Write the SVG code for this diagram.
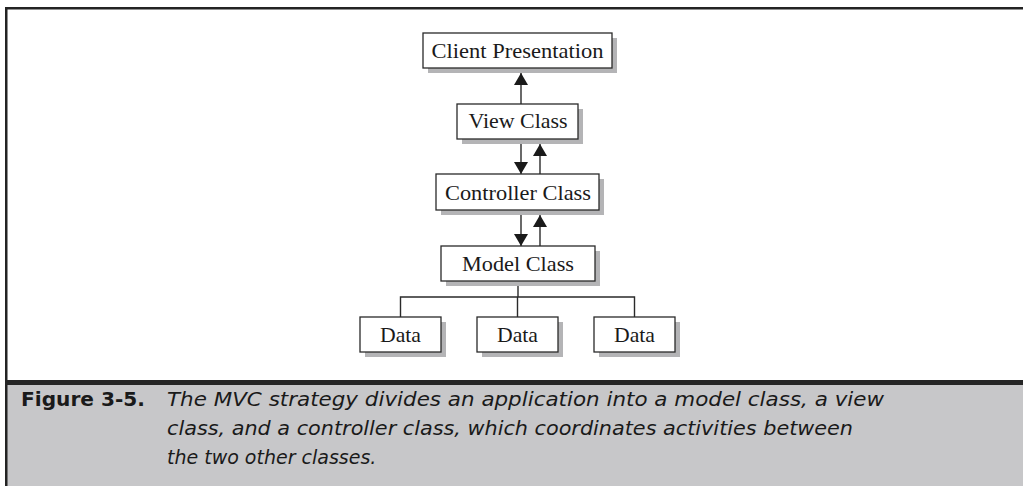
<svg xmlns="http://www.w3.org/2000/svg" width="1023" height="486" viewBox="0 0 1023 486">
  <style>
    .shadow { fill: #b4b4b6; }
    .box { fill: #ffffff; stroke: #2a2a2a; stroke-width: 1.3; }
    .label { font-family: "Liberation Serif", "DejaVu Serif", serif; font-size: 22px; fill: #1a1a1a; text-anchor: middle; }
    .wire { fill: none; stroke: #2a2a2a; stroke-width: 1.4; }
    .fig { font-family: "DejaVu Sans", "Liberation Sans", sans-serif; font-weight: bold; font-size: 20px; fill: #1a1a1a; }
    .cap { font-family: "DejaVu Sans", "Liberation Sans", sans-serif; font-style: italic; font-size: 19px; fill: #1a1a1a; }
  </style>
  <defs>
    <marker id="arrow" viewBox="0 0 12 14" refX="12" refY="7" markerWidth="12" markerHeight="14" markerUnits="userSpaceOnUse" orient="auto">
      <path d="M0,0 L12,7 L0,14 z" fill="#1a1a1a"/>
    </marker>
  </defs>

  <!-- page frame -->
  <rect x="0" y="0" width="1023" height="486" fill="#ffffff"/>
  <rect x="6" y="383" width="1017" height="103" fill="#c7c7c9"/>
  <rect x="5" y="7" width="1018" height="2.5" fill="#232323"/>
  <rect x="5" y="7" width="2.5" height="479" fill="#232323"/>
  <rect x="5" y="380" width="1018" height="5" fill="#262626"/>

  <!-- connectors -->
  <g id="connectors">
    <line class="wire" x1="521" y1="104" x2="521" y2="73" marker-end="url(#arrow)"/>
    <line class="wire" x1="521" y1="139" x2="521" y2="174" marker-end="url(#arrow)"/>
    <line class="wire" x1="540" y1="174" x2="540" y2="144" marker-end="url(#arrow)"/>
    <line class="wire" x1="521" y1="210" x2="521" y2="246" marker-end="url(#arrow)"/>
    <line class="wire" x1="540" y1="246" x2="540" y2="215" marker-end="url(#arrow)"/>
    <path class="wire" d="M518,281 V297 M400.5,317 V297 H634.5 V317 M517.5,297 V317"/>
  </g>

  <g id="client">
    <rect class="shadow" x="428" y="38" width="189" height="35"/>
    <rect class="box" x="423" y="33" width="189" height="35"/>
    <text class="label" x="517.5" y="58" textLength="172" lengthAdjust="spacingAndGlyphs">Client Presentation</text>
  </g>

  <g id="view">
    <rect class="shadow" x="462" y="109" width="121" height="35"/>
    <rect class="box" x="457" y="104" width="121" height="35"/>
    <text class="label" x="518" y="127.5" textLength="99" lengthAdjust="spacingAndGlyphs">View Class</text>
  </g>

  <g id="controller">
    <rect class="shadow" x="441" y="179" width="163" height="36"/>
    <rect class="box" x="436" y="174" width="163" height="36"/>
    <text class="label" x="518" y="200" textLength="146" lengthAdjust="spacingAndGlyphs">Controller Class</text>
  </g>

  <g id="model">
    <rect class="shadow" x="446" y="251" width="154" height="35"/>
    <rect class="box" x="441" y="246" width="154" height="35"/>
    <text class="label" x="518" y="271" textLength="112" lengthAdjust="spacingAndGlyphs">Model Class</text>
  </g>

  <g id="data1">
    <rect class="shadow" x="365" y="322" width="81" height="35"/>
    <rect class="box" x="360" y="317" width="81" height="35"/>
    <text class="label" x="400.5" y="341.5" textLength="41" lengthAdjust="spacingAndGlyphs">Data</text>
  </g>

  <g id="data2">
    <rect class="shadow" x="482" y="322" width="81" height="35"/>
    <rect class="box" x="477" y="317" width="81" height="35"/>
    <text class="label" x="517.5" y="341.5" textLength="41" lengthAdjust="spacingAndGlyphs">Data</text>
  </g>

  <g id="data3">
    <rect class="shadow" x="599" y="322" width="81" height="35"/>
    <rect class="box" x="594" y="317" width="81" height="35"/>
    <text class="label" x="634.5" y="341.5" textLength="41" lengthAdjust="spacingAndGlyphs">Data</text>
  </g>

  <!-- caption -->
  <g id="caption">
    <text class="fig" x="21" y="406" textLength="124" lengthAdjust="spacingAndGlyphs">Figure 3-5.</text>
    <text class="cap" x="167" y="406" textLength="717" lengthAdjust="spacingAndGlyphs">The MVC strategy divides an application into a model class, a view</text>
    <text class="cap" x="167" y="435" textLength="686" lengthAdjust="spacingAndGlyphs">class, and a controller class, which coordinates activities between</text>
    <text class="cap" x="167" y="463.5">the two other classes.</text>
  </g>
</svg>
